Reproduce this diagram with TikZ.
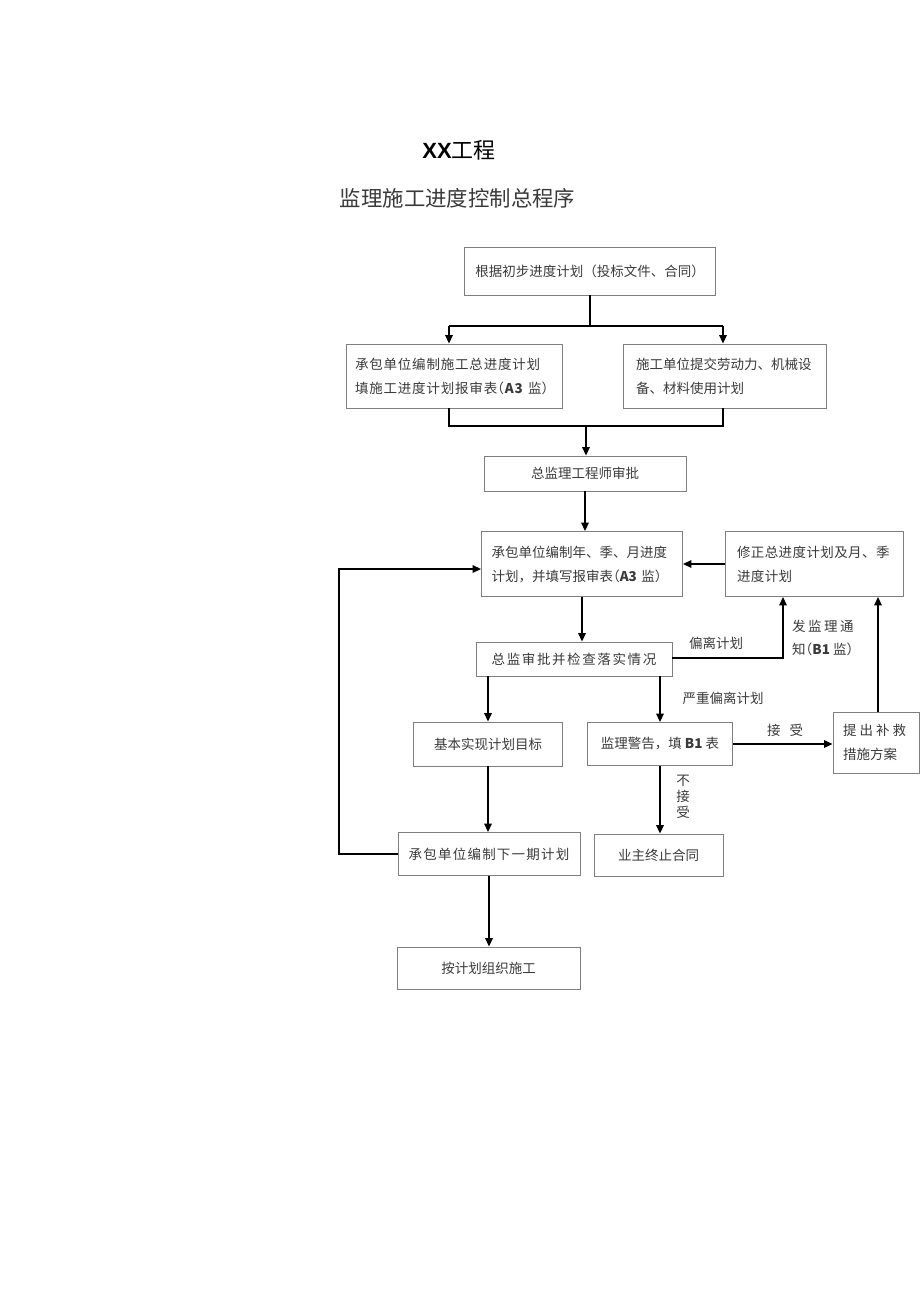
\documentclass[tikz,border=0pt]{standalone}
\usepackage{fontspec}
\setmainfont{Noto Sans CJK SC}
\newfontfamily\latinfont{Liberation Sans}
\usetikzlibrary{arrows.meta}
\definecolor{boxgray}{HTML}{7F7F7F}
\definecolor{textgray}{HTML}{3A3A3A}
\newcommand\bxfont{\fontsize{13.5}{24}\selectfont}
\newcommand\lp{{\addfontfeature{RawFeature=+halt}（}}
\newcommand\rp{{\addfontfeature{RawFeature=+halt}）}}
\begin{document}
\begin{tikzpicture}[x=1pt,y=-1pt,
  box/.style={draw=boxgray, line width=0.9pt, inner xsep=0pt, inner ysep=0pt, align=center, font=\bxfont, text=textgray},
  lbox/.style={box, align=left},
  ln/.style={line width=1.8pt, black},
  arr/.style={ln, -{Triangle[length=8.5pt,width=7.5pt]}},
  lbl/.style={font=\bxfont, text=textgray, inner sep=0pt}]
\useasboundingbox (0,0) rectangle (920,1301);

% titles
\node (t1) at (459,150) {\fontsize{22}{22}\selectfont{\latinfont\bfseries XX}工程};
\node[text=textgray] (t2) at (457.5,198) {\fontsize{21.4}{22}\selectfont 监理施工进度控制总程序};

% boxes
\node[box, minimum width=251pt, minimum height=48pt] (b1) at (590,271) {根据初步进度计划（投标文件、合同）};
\node[lbox, text width=198pt, inner xsep=9pt, minimum height=64pt] (b2) at (454,376)
  {\addfontfeature{LetterSpace=6}承包单位编制施工总进度计划\\填施工进度计划报审表\lp\textbf{A3}~监\rp};
\node[lbox, text width=177pt, inner xsep=13pt, minimum height=64pt] (b3) at (724.5,376)
  {施工单位提交劳动力、机械设\\备、材料使用计划};
\node[box, minimum width=202pt, minimum height=35pt] (b4) at (585,473.5) {总监理工程师审批};
\node[lbox, text width=181pt, inner xsep=10pt, minimum height=65pt] (b5) at (582,564)
  {承包单位编制年、季、月进度\\计划，并填写报审表\lp\textbf{A3}~监\rp};
\node[lbox, text width=154pt, inner xsep=12pt, minimum height=65pt] (b6) at (814,564)
  {\addfontfeature{LetterSpace=3}修正总进度计划及月、季\\进度计划};
\node[box, minimum width=196pt, minimum height=34pt] (b7) at (574,659)
  {\addfontfeature{LetterSpace=12}总监审批并检查落实情况};
\node[box, minimum width=149pt, minimum height=44pt] (b8) at (488,744) {基本实现计划目标};
\node[box, minimum width=145pt, minimum height=43pt] (b9) at (660,744) {监理警告，填 \textbf{B1} 表};
\node[lbox, text width=66pt, inner xsep=10pt, minimum height=61pt] (b10) at (876,742.5)
  {提\hspace{3pt}出\hspace{3pt}补\hspace{3pt}救\\措施方案};
\node[box, minimum width=182pt, minimum height=43pt] (b11) at (489,854)
  {\addfontfeature{LetterSpace=9}承包单位编制下一期计划};
\node[box, minimum width=129pt, minimum height=42pt] (b12) at (658.5,855) {业主终止合同};
\node[box, minimum width=183pt, minimum height=42pt] (b13) at (488.5,968) {按计划组织施工};

% labels
\node[lbl] (l1) at (716,643) {偏离计划};
\node[lbl, align=left, anchor=west, font=\fontsize{13.5}{23}\selectfont] (l2) at (792,637.5)
  {发\hspace{2.5pt}监\hspace{2.5pt}理\hspace{2.5pt}通\\知\lp\textbf{B1}~监\rp};
\node[lbl] (l3) at (723,698) {严重偏离计划};
\node[lbl] (l4) at (785,730) {接\hspace{9pt}受};
\node[lbl, align=center, font=\fontsize{13.5}{16}\selectfont] (l5) at (683,797) {不\\接\\受};

% connectors
\coordinate (sL) at (449,326);
\coordinate (sR) at (723,326);
\draw[ln] (b1.south) -- (b1.south |- sL);
\draw[ln] (sL) -- (sR);
\draw[arr] (sL) -- (sL |- b2.north);
\draw[arr] (sR) -- (sR |- b3.north);
\coordinate (mL) at (449,426);
\coordinate (mR) at (723,426);
\coordinate (mC) at (586,426);
\draw[ln] (mL |- b2.south) -- (mL) -- (mR) -- (mR |- b3.south);
\draw[arr] (mC) -- (mC |- b4.north);
\draw[arr] (b4.south) -- (b4.south |- b5.north);
\draw[arr] (b5.south) -- (b5.south |- b7.north);
\draw[arr] (b6) -- (b5);
\coordinate (c1) at (783,658);
\draw[arr] (b7.east |- c1) -- (c1) -- (c1 |- b6.south);
\draw[arr] (b8.north |- b7.south) -- (b8.north);
\draw[arr] (b9.north |- b7.south) -- (b9.north);
\draw[arr] (b9.east) -- (b10.west |- b9.east);
\draw[arr] (b9.south) -- (b9.south |- b12.north);
\coordinate (c2) at (878,700);
\draw[arr] (c2 |- b10.north) -- (c2 |- b6.south);
\draw[arr] (b8.south) -- (b8.south |- b11.north);
\coordinate (f1) at (339,854);
\coordinate (f2) at (339,569);
\draw[arr] (b11.west) -- (f1) -- (f2) -- (b5.west |- f2);
\draw[arr] (b11.south) -- (b11.south |- b13.north);
\end{tikzpicture}
\end{document}
